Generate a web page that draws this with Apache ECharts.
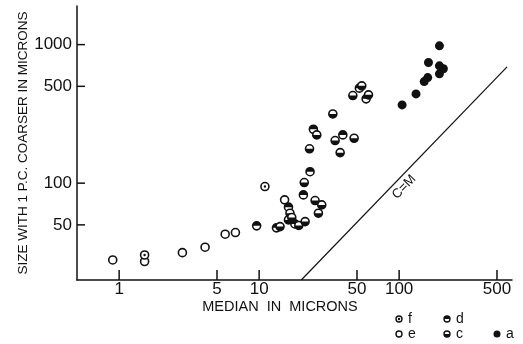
<!DOCTYPE html>
<html><head><meta charset="utf-8">
<script src="https://cdn.jsdelivr.net/npm/echarts@6/dist/echarts.min.js"></script>
<style>html,body{margin:0;padding:0;background:#fff}#c{width:523px;height:344px}</style>
</head><body><div id="c"></div>
<script>
// ---- data (median µm, size with 1 p.c. coarser µm) ----
const xTicks = [1, 5, 10, 50, 100, 500];
const yTicks = [50, 100, 500, 1000];
const seriesF = [[1.52, 30.3], [11.0, 94.5]];
const seriesE = [[0.9, 27.9], [1.52, 27.2], [2.83, 31.5], [4.11, 34.5], [5.72, 42.8], [6.77, 44.0], [15.2, 75.8]];
const seriesD = [[9.6, 49.2], [13.3, 47.6], [16.2, 67.1], [20.7, 82.3], [23.1, 121], [24.4, 245], [39.6, 223], [52.0, 485], [58.1, 406], [18.0, 50.8]];
const seriesC = [[14.1, 48.6], [16.6, 60.7], [16.2, 54.3], [17.1, 56.5], [19.2, 49.5], [21.3, 52.8], [21.0, 101], [25.1, 74.9], [28.0, 69.7], [26.5, 60.7], [37.9, 166], [33.6, 316], [25.8, 223], [34.9, 203], [47.7, 211], [22.9, 177], [46.7, 429], [54.1, 504], [60.4, 434]];
const seriesA = [[194, 980], [162, 743], [194, 703], [207, 669], [194, 615], [160, 578], [151, 541], [132, 441], [105, 367]];
const cmLine = [[20, 20], [590, 690]];
const legendKeys = [['f', 'f'], ['d', 'd'], ['e', 'e'], ['c', 'c'], ['a', 'a']];

const X_MIN = 0.5, X_MAX = 640, Y_MIN = 20, Y_MAX = 1900;
const INK = '#111';
const FONT = '"Liberation Sans", Arial, sans-serif';

function drawMarker(type, x, y, r, lw) {
  const ch = [];
  if (type === 'a') {
    ch.push({ type: 'circle', shape: { cx: x, cy: y, r: r + 0.5 }, style: { fill: INK } });
  } else {
    ch.push({ type: 'circle', shape: { cx: x, cy: y, r: r }, style: { fill: '#fff', stroke: INK, lineWidth: lw } });
    if (type === 'd') ch.push({ type: 'sector', shape: { cx: x, cy: y, r0: 0, r: r, startAngle: Math.PI, endAngle: 2 * Math.PI }, style: { fill: INK } });
    if (type === 'c') ch.push({ type: 'sector', shape: { cx: x, cy: y, r0: 0, r: r, startAngle: 0, endAngle: Math.PI }, style: { fill: INK } });
    if (type === 'f') ch.push({ type: 'circle', shape: { cx: x, cy: y, r: 1.2 }, style: { fill: INK } });
  }
  return { type: 'group', children: ch };
}

function markerSeries(type, data) {
  return {
    type: 'custom', coordinateSystem: 'cartesian2d', data: data, silent: true,
    renderItem: function (params, api) {
      const p = api.coord([api.value(0), api.value(1)]);
      return drawMarker(type, p[0], p[1], 4, 1.6);
    }
  };
}

const chart = echarts.init(document.getElementById('c'), null, { renderer: 'canvas' });

const legendPos = { f: [399, 319], d: [447, 319], e: [399, 334], c: [447, 334], a: [497, 334] };
const legendGraphics = [];
legendKeys.forEach(function (k) {
  const pos = legendPos[k[0]];
  legendGraphics.push(drawMarker(k[0], pos[0], pos[1], 3, 1.4));
  legendGraphics.push({ type: 'text', x: pos[0] + 9, y: pos[1], style: { text: k[1], font: '14px ' + FONT, fill: INK, verticalAlign: 'middle', align: 'left' } });
});

chart.setOption({
  animation: false,
  backgroundColor: '#fff',
  grid: { left: 77, right: 11, top: 6, bottom: 64 },
  xAxis: {
    type: 'log', logBase: 10, min: X_MIN, max: X_MAX,
    name: 'MEDIAN  IN  MICRONS', nameLocation: 'middle', nameGap: 19,
    nameTextStyle: { fontFamily: FONT, fontSize: 14.5, color: INK, padding: [0, 29, 0, 0] },
    axisLine: { onZero: false, lineStyle: { color: INK, width: 1.5 } },
    axisTick: { show: false }, axisLabel: { show: false }, splitLine: { show: false }, minorTick: { show: false }
  },
  yAxis: {
    type: 'log', logBase: 10, min: Y_MIN, max: Y_MAX,
    name: 'SIZE WITH 1 P.C. COARSER IN MICRONS', nameLocation: 'middle', nameGap: 47, nameRotate: 90,
    nameTextStyle: { fontFamily: FONT, fontSize: 13.5, color: INK },
    axisLine: { onZero: false, lineStyle: { color: INK, width: 1.5 } },
    axisTick: { show: false }, axisLabel: { show: false }, splitLine: { show: false }, minorTick: { show: false }
  },
  graphic: legendGraphics.concat([
    { type: 'text', x: 404, y: 187, rotation: 0.80, style: { text: 'C=M', font: '13px ' + FONT, fill: INK, align: 'center', verticalAlign: 'middle' } }
  ]),
  series: [
    { type: 'line', data: cmLine, showSymbol: false, symbol: 'none', silent: true, lineStyle: { color: INK, width: 1.2 } },
    {
      type: 'custom', coordinateSystem: 'cartesian2d', data: xTicks.map(function (v) { return [v, Y_MIN]; }), clip: false, silent: true,
      renderItem: function (params, api) {
        const p = api.coord([api.value(0), Y_MIN]);
        return { type: 'group', children: [
          { type: 'line', shape: { x1: p[0], y1: p[1], x2: p[0], y2: p[1] - 10 }, style: { stroke: INK, lineWidth: 1.5 } },
          { type: 'text', x: p[0], y: p[1] + 1, style: { text: String(api.value(0)), align: 'center', verticalAlign: 'top', font: '17px ' + FONT, fill: INK } }
        ] };
      }
    },
    {
      type: 'custom', coordinateSystem: 'cartesian2d', data: yTicks.map(function (v) { return [X_MIN, v]; }), clip: false, silent: true,
      renderItem: function (params, api) {
        const p = api.coord([X_MIN, api.value(1)]);
        return { type: 'group', children: [
          { type: 'line', shape: { x1: p[0], y1: p[1], x2: p[0] + 8, y2: p[1] }, style: { stroke: INK, lineWidth: 1.5 } },
          { type: 'text', x: p[0] - 5, y: p[1], style: { text: String(api.value(1)), align: 'right', verticalAlign: 'middle', font: '17px ' + FONT, fill: INK } }
        ] };
      }
    },
    markerSeries('e', seriesE),
    markerSeries('f', seriesF),
    markerSeries('d', seriesD),
    markerSeries('c', seriesC),
    markerSeries('a', seriesA)
  ]
});
</script>
</body></html>
